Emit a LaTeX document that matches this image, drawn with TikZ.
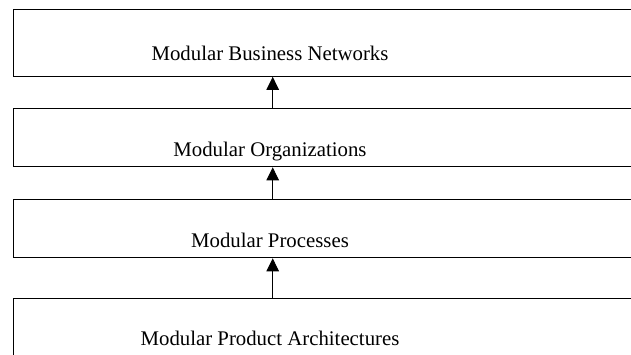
\documentclass[tikz,border=0pt]{standalone}
\usepackage{fontspec}
\setmainfont{Liberation Serif}
\usetikzlibrary{arrows.meta}
\begin{document}
\begin{tikzpicture}[x=1pt,y=-1pt,
  layerbox/.style={draw=black,line width=1.3pt,rectangle,anchor=north west,inner sep=0pt,minimum width=700pt},
  lbl/.style={font=\fontsize{20.8}{25}\selectfont,inner sep=0pt,anchor=base},
  arr/.style={line width=1pt,-{Triangle[length=13pt,width=12.5pt]}}]
\useasboundingbox (0,0) rectangle (631,354);
\clip (0,0) rectangle (631,354);
\node[layerbox,minimum height=67pt] (b1) at (12.5,8.5) {};
\node[layerbox,minimum height=58pt] (b2) at (12.5,108) {};
\node[layerbox,minimum height=58pt] (b3) at (12.5,199) {};
\node[layerbox,minimum height=80pt] (b4) at (12.5,298) {};
\node[lbl] (t1) at (270,60) {Modular Business Networks};
\node[lbl] (t2) at (270,156) {Modular Organizations};
\node[lbl] (t3) at (270,247) {Modular Processes};
\node[lbl] (t4) at (270,345) {Modular Product Architectures};
\coordinate (ax) at (272.7,0);
\draw[arr] (b2.north -| ax) -- (b1.south -| ax);
\draw[arr] (b3.north -| ax) -- (b2.south -| ax);
\draw[arr] (b4.north -| ax) -- (b3.south -| ax);
\end{tikzpicture}
\end{document}
